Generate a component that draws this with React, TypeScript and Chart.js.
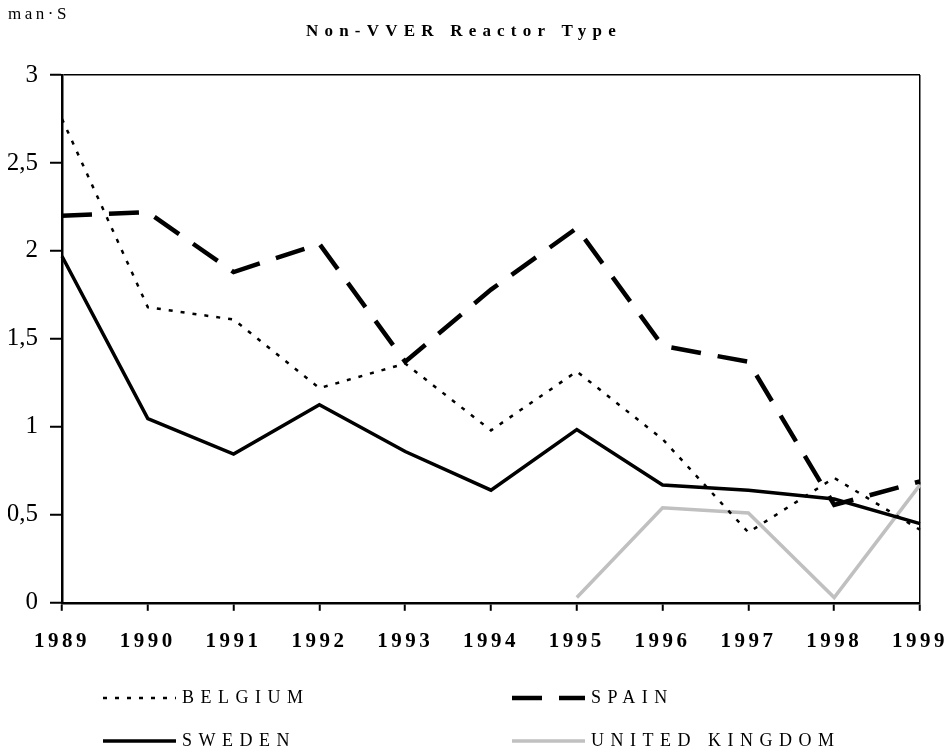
import React, { useEffect, useRef } from 'react';
import { Chart, registerables } from 'chart.js';

Chart.register(...registerables);

const years = ['1989', '1990', '1991', '1992', '1993', '1994', '1995', '1996', '1997', '1998', '1999'];
const belgium = [2.75, 1.68, 1.61, 1.22, 1.36, 0.98, 1.315, 0.93, 0.4, 0.71, 0.415];
const spain = [2.2, 2.22, 1.88, 2.04, 1.37, 1.78, 2.13, 1.46, 1.37, 0.556, 0.69];
const sweden = [1.97, 1.047, 0.845, 1.126, 0.86, 0.64, 0.985, 0.67, 0.64, 0.59, 0.45];
const uk = [null, null, null, null, null, null, 0.03, 0.54, 0.51, 0.03, 0.67];
const seriesNames = ['BELGIUM', 'SPAIN', 'SWEDEN', 'UNITED KINGDOM'];
const unitLabel = 'man·S';
const chartTitle = 'Non-VVER Reactor Type';

const SERIF = '"Liberation Serif", "Times New Roman", serif';

const spacingPlugin = {
  id: 'spacingPlugin',
  beforeDraw(chart: any) {
    const ctx = chart.ctx;
    const x = chart.scales.x;
    if (x && !x.__patched) {
      const orig = x.drawLabels.bind(x);
      x.drawLabels = (area: any) => {
        ctx.save();
        ctx.letterSpacing = '3.5px';
        orig(area);
        ctx.restore();
      };
      x.__patched = true;
    }
    (chart.boxes || []).forEach((b: any) => {
      if (b.__patched || !b.options || typeof b.options.text !== 'string') return;
      const sp = b.options.text === chartTitle ? '6.2px' : '3.5px';
      const orig = b.draw.bind(b);
      b.draw = (area: any) => {
        ctx.save();
        ctx.letterSpacing = sp;
        orig(area);
        ctx.restore();
      };
      b.__patched = true;
    });
  },
};

const legendPlugin = {
  id: 'customLegend',
  afterDraw(chart: any) {
    const ctx = chart.ctx;
    const left = chart.chartArea.left;
    const colX = [left + 41, left + 450];
    const rowY = [698, 741];
    chart.data.datasets.forEach((ds: any, i: number) => {
      const col = i % 2;
      const row = Math.floor(i / 2);
      const x0 = colX[col];
      const y = rowY[row];
      ctx.save();
      ctx.strokeStyle = ds.borderColor;
      ctx.lineWidth = ds.borderWidth;
      ctx.setLineDash(ds.borderDash || []);
      ctx.lineCap = 'butt';
      ctx.beginPath();
      ctx.moveTo(x0, y);
      ctx.lineTo(x0 + 73, y);
      ctx.stroke();
      ctx.setLineDash([]);
      ctx.fillStyle = '#000';
      ctx.font = '18px ' + SERIF;
      ctx.letterSpacing = '6.5px';
      ctx.textAlign = 'left';
      ctx.textBaseline = 'middle';
      ctx.fillText(ds.label, x0 + 79, y);
      ctx.restore();
    });
  },
};

export default function App() {
  const ref = useRef<HTMLCanvasElement>(null);
  useEffect(() => {
    document.body.style.margin = '0';
    const canvas = ref.current!;
    const chart = new Chart(canvas, {
      type: 'line',
      data: {
        labels: years,
        datasets: [
          {
            label: seriesNames[0],
            data: belgium,
            borderColor: '#000',
            borderWidth: 2.5,
            borderDash: [4, 8],
          },
          {
            label: seriesNames[1],
            data: spain,
            borderColor: '#000',
            borderWidth: 4.5,
            borderDash: [30, 17],
          },
          {
            label: seriesNames[2],
            data: sweden,
            borderColor: '#000',
            borderWidth: 3.5,
          },
          {
            label: seriesNames[3],
            data: uk,
            borderColor: '#c0c0c0',
            borderWidth: 3.5,
          },
        ] as any,
      },
      options: {
        animation: false,
        responsive: false,
        devicePixelRatio: 1,
        elements: {
          point: { radius: 0, hoverRadius: 0 },
          line: { tension: 0, borderCapStyle: 'butt', borderJoinStyle: 'miter', fill: false },
        },
        layout: { padding: { left: 8, top: 6, right: 27, bottom: 81 } },
        plugins: {
          legend: { display: false },
          tooltip: { enabled: false },
          title: {
            display: true,
            text: unitLabel,
            align: 'start',
            color: '#000',
            font: { family: SERIF, size: 17, weight: 'normal', lineHeight: 1 },
            padding: { top: 0, bottom: 0 },
          },
          subtitle: {
            display: true,
            text: chartTitle,
            align: 'center',
            color: '#000',
            font: { family: SERIF, size: 17, weight: 'bold', lineHeight: 1 },
            padding: { top: 0, bottom: 35 },
          },
        },
        scales: {
          x: {
            offset: false,
            afterFit: (s: any) => {
              s.paddingRight = 20;
              s.paddingLeft = 0;
            },
            grid: {
              color: (c: any) => (c.index === years.length - 1 ? '#000' : 'rgba(0,0,0,0)'),
              lineWidth: 1.5,
              tickColor: '#000',
              tickWidth: 2,
              tickLength: 8,
            },
            border: { display: true, color: '#000', width: 2.5 },
            ticks: {
              color: '#000',
              font: { family: SERIF, size: 21, weight: 'bold' },
              padding: 18,
              maxRotation: 0,
              autoSkip: false,
            },
          },
          y: {
            min: 0,
            max: 3,
            afterFit: (s: any) => {
              s.width = 54;
            },
            grid: {
              color: (c: any) => (c.tick && c.tick.value === 3 ? '#000' : 'rgba(0,0,0,0)'),
              lineWidth: 1.5,
              tickColor: '#000',
              tickWidth: 2,
              tickLength: 12,
            },
            border: { display: true, color: '#000', width: 2.5 },
            ticks: {
              stepSize: 0.5,
              color: '#000',
              padding: 12,
              font: { family: SERIF, size: 25, weight: 'normal' },
              callback: (v: any) => String(v).replace('.', ','),
            },
          },
        },
      },
      plugins: [spacingPlugin, legendPlugin],
    } as any);
    return () => chart.destroy();
  }, []);
  return (
    <div style={{ width: 947, height: 753 }}>
      <canvas ref={ref} width={947} height={753} style={{ display: 'block' }} />
    </div>
  );
}
